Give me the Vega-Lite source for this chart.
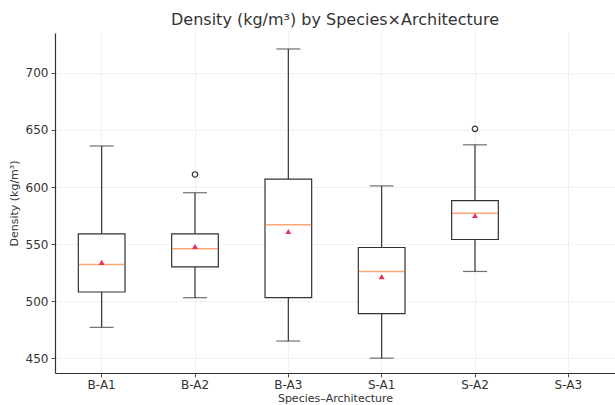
{
  "$schema": "https://vega.github.io/schema/vega-lite/v6.json",
  "autosize": "none",
  "width": 560,
  "height": 340,
  "padding": {"left": 55, "top": 33, "right": 0, "bottom": 32},
  "background": "white",
  "title": {"text": "Density (kg/m³) by Species×Architecture", "font": "DejaVu Sans", "fontSize": 16, "fontWeight": "normal", "color": "#333333", "offset": 5},
  "config": {
    "view": {"stroke": null},
    "axis": {"labelFont": "DejaVu Sans", "titleFont": "DejaVu Sans", "labelFontSize": 12, "titleFontSize": 11, "titleFontWeight": "normal", "labelColor": "#333333", "titleColor": "#333333", "gridColor": "#dddddd", "gridDash": [2, 2], "gridWidth": 0.8, "domainColor": "#333333", "tickColor": "#555555", "domainWidth": 1.2}
  },
  "datasets": {
    "stats": [
      {"group": "B-A1", "lower": 477, "q1": 508, "median": 532, "q3": 559, "upper": 636, "mean": 534},
      {"group": "B-A2", "lower": 503, "q1": 530, "median": 546, "q3": 559, "upper": 595, "mean": 548},
      {"group": "B-A3", "lower": 465, "q1": 503, "median": 567, "q3": 607, "upper": 721, "mean": 561},
      {"group": "S-A1", "lower": 450, "q1": 489, "median": 526, "q3": 547, "upper": 601, "mean": 521.5},
      {"group": "S-A2", "lower": 526, "q1": 554, "median": 577, "q3": 588, "upper": 637, "mean": 575}
    ],
    "outliers": [
      {"group": "B-A2", "value": 611},
      {"group": "S-A2", "value": 651}
    ]
  },
  "data": {"name": "stats"},
  "encoding": {
    "x": {"field": "group", "type": "nominal",
      "scale": {"domain": ["B-A1", "B-A2", "B-A3", "S-A1", "S-A2", "S-A3"], "paddingInner": 0, "paddingOuter": 0},
      "axis": {"title": "Species–Architecture", "labelAngle": 0, "grid": true, "bandPosition": 0.5, "tickSize": 4, "labelPadding": 2, "titlePadding": 2}}
  },
  "layer": [
    {
      "mark": {"type": "rule", "color": "#333333", "strokeWidth": 1.2},
      "encoding": {
        "y": {"field": "lower", "type": "quantitative",
          "scale": {"domain": [437, 735], "nice": false, "zero": false},
          "axis": {"title": "Density (kg/m³)", "values": [450, 500, 550, 600, 650, 700], "grid": true, "tickSize": 4, "labelPadding": 3, "titlePadding": 6}},
        "y2": {"field": "upper"}
      }
    },
    {
      "mark": {"type": "bar", "fill": "white", "stroke": "#333333", "strokeWidth": 1.2, "width": {"band": 0.5}},
      "encoding": {
        "y": {"field": "q1", "type": "quantitative"},
        "y2": {"field": "q3"}
      }
    },
    {
      "mark": {"type": "tick", "color": "#333333", "size": 24, "thickness": 1.2},
      "encoding": {"y": {"field": "lower", "type": "quantitative"}}
    },
    {
      "mark": {"type": "tick", "color": "#333333", "size": 24, "thickness": 1.2},
      "encoding": {"y": {"field": "upper", "type": "quantitative"}}
    },
    {
      "mark": {"type": "tick", "color": "#f5813a", "size": 46, "thickness": 1.5},
      "encoding": {"y": {"field": "median", "type": "quantitative"}}
    },
    {
      "mark": {"type": "point", "shape": "triangle-up", "filled": true, "color": "#ee2f57", "size": 35, "opacity": 1},
      "encoding": {"y": {"field": "mean", "type": "quantitative"}}
    },
    {
      "data": {"name": "outliers"},
      "mark": {"type": "point", "shape": "circle", "filled": false, "color": "#333333", "size": 30, "strokeWidth": 1.2, "opacity": 1},
      "encoding": {"y": {"field": "value", "type": "quantitative"}}
    }
  ]
}
